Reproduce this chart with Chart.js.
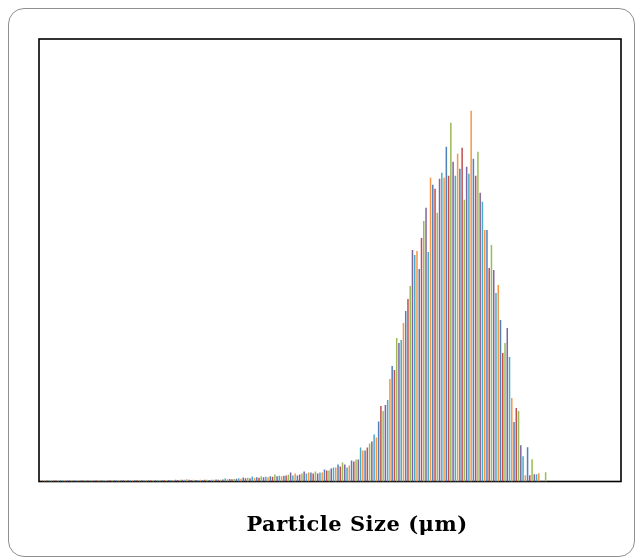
<!DOCTYPE html>
<html>
<head>
<meta charset="utf-8">
<script src="https://cdn.jsdelivr.net/npm/chart.js@4.4.1/dist/chart.umd.min.js"></script>
<style>
  html, body { margin: 0; padding: 0; background: #ffffff; }
  #frame {
    position: absolute; left: 8px; top: 8px; width: 625px; height: 547px;
    border: 1.6px solid #8f8f8f; border-radius: 16px; background: #fff;
  }
  #wrap { position: absolute; left: 0; top: 0; width: 642px; height: 558px; }
</style>
</head>
<body>
<div id="frame"></div>
<div id="wrap"><canvas id="c" width="642" height="558"></canvas></div>
<script>
// Axis title
const xAxisTitle = 'Particle Size (\u03bcm)';

// Office 2007 style palette cycled by bar
const palette = ['#4F81BD', '#C0504D', '#9BBB59', '#8064A2', '#4BACC6', '#F79646'];

// Volume fraction per size bin (bin index 0..223)
const volumeLow = [
  0.006,0.006,0.006,0.006,0.006,0.006,0.006,0.006,0.006,0.006,
  0.006,0.006,0.006,0.006,0.006,0.006,0.006,0.006,0.006,0.006,
  0.006,0.006,0.006,0.006,0.006,0.006,0.006,0.006,0.006,0.006,
  0.009,0.009,0.009,0.009,0.009,0.009,0.009,0.009,0.009,0.009,
  0.009,0.009,0.009,0.009,0.009,0.009,0.009,0.009,0.009,0.009,
  0.009,0.009,0.009,0.009,0.009,0.009,
  0.011,0.012,0.011,0.013,0.012,0.014,0.013,0.015,0.020,0.014,
  0.012,0.013,0.011,0.012,0.013,0.012,0.014,0.013,0.012,0.014,
  0.015,0.016,0.014,0.015,0.017,
  0.027,
  0.020,0.021,0.019,0.022,
  0.025,0.030,0.025,0.037,
  0.030,0.033,0.030,0.047,
  0.033,0.040,0.035,0.050,0.040,0.045,
  0.040,0.050,0.045,0.067,0.050,
  0.053,0.050,0.053,0.057,0.063
];
const volumeRise = [
  0.087,0.057,0.077,0.057,0.067,0.077,0.097,0.077,0.087,0.087,
  0.077,0.097,0.077,0.087,0.087,0.117,0.107,0.107,0.127,0.137,
  0.137,0.167,0.147,0.187,0.167,0.137,0.157,0.207,0.197,0.217,
  0.217,0.337,0.307,0.307,0.337,0.377,0.397,0.467,0.437,0.597
];
const volumePeak = [
  0.75,0.70,0.76,0.81,1.02,1.15,1.11,1.43,1.38,1.41,
  1.58,1.70,1.82,1.95,2.31,2.26,2.30,2.12,2.43,2.60,
  2.73,2.29,3.03,2.96,2.92,2.68,3.02,3.08,3.03,3.34,
  3.05,3.58,3.19,3.05,3.27,3.12
];
const volumeFall = [
  3.33,2.81,3.14,3.07,3.70,3.22,3.05,3.29,2.88,2.79,
  2.51,2.51,2.13,2.36,2.11,1.88,1.96,1.61,1.28,1.38,
  1.53,1.24,0.83,0.59,0.73,0.70,0.36,0.25,0.06,0.34,
  0.06,0.22,0.07,0.07,0.08,
  0,0,0.09
];

const volume = volumeLow.concat(volumeRise, volumePeak, volumeFall);
const points = volume.map((v, i) => ({ x: i, y: v }));
const barColors = volume.map((v, i) => palette[(i + 1) % palette.length]);

const plotFrame = {
  id: 'plotFrame',
  beforeDatasetsDraw(chart) {
    const a = chart.chartArea, ctx = chart.ctx;
    ctx.save();
    ctx.strokeStyle = '#000000';
    ctx.lineWidth = 1.6;
    ctx.strokeRect(a.left, a.top, a.right - a.left, a.bottom - a.top);
    ctx.restore();
  },
  afterDraw(chart) {
    const ctx = chart.ctx;
    ctx.save();
    ctx.fillStyle = '#000000';
    ctx.font = 'bold 21px "DejaVu Serif"';
    ctx.letterSpacing = '0.5px';
    ctx.textAlign = 'center';
    ctx.textBaseline = 'alphabetic';
    ctx.fillText(xAxisTitle, 357, 531);
    ctx.restore();
  }
};

new Chart(document.getElementById('c'), {
  type: 'bar',
  data: {
    datasets: [{
      data: points,
      backgroundColor: barColors,
      borderWidth: 0,
      barThickness: 0.85
    }]
  },
  options: {
    responsive: false,
    animation: false,
    layout: { padding: { left: 39, right: 21, top: 39, bottom: 76.5 } },
    plugins: { legend: { display: false }, tooltip: { enabled: false } },
    scales: {
      x: { type: 'linear', display: false, min: -1.5, max: 256.4, offset: false },
      y: { display: false, min: 0, max: 4.42 }
    }
  },
  plugins: [plotFrame]
});
</script>
</body>
</html>
